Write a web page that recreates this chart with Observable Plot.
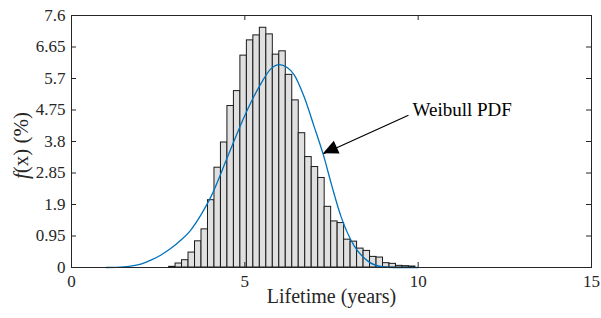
<!DOCTYPE html>
<html><head><meta charset="utf-8">
<script src="https://cdn.jsdelivr.net/npm/d3@7"></script>
<script src="https://cdn.jsdelivr.net/npm/@observablehq/plot@0.6"></script>
<style>html,body{margin:0;padding:0;background:#fff} svg{display:block}</style>
</head><body><div id="chart"></div>
<script>
// ---- data ----
const binStart = 2.815;   // lower edge of first histogram bin (years)
const binWidth = 0.187;   // histogram bin width (years)
const binValues = [0.02,0.12,0.22,0.45,0.79,1.15,2.03,3.01,3.77,4.87,5.32,6.39,6.85,7.00,7.23,7.03,6.42,6.52,5.81,5.04,4.05,3.33,3.03,2.70,1.83,1.39,1.34,0.84,0.78,0.57,0.50,0.32,0.30,0.13,0.11,0.05,0.04,0.03];
const curveX = [1.0,1.5,2.0,2.29,2.57,2.86,3.15,3.44,3.73,4.02,4.5,4.98,5.46,5.75,6.0,6.22,6.42,6.71,7.0,7.27,7.5,7.77,8.15,8.54,8.92,9.3,10.0];
const curveY = [0,0.02,0.1,0.22,0.37,0.57,0.82,1.13,1.58,2.13,3.33,4.54,5.54,5.99,6.12,6.03,5.82,5.15,4.25,3.38,2.5,1.55,0.66,0.2,0.03,0,0];
const xTicks = [0,5,10,15];
const yTicks = [0,0.95,1.9,2.85,3.8,4.75,5.7,6.65,7.6];
const xLabel = "Lifetime (years)";
const yLabel = "f(x) (%)";
const noteText = "Weibull PDF";
const notePos = [9.84, 4.74];
const arrowTail = [9.72, 4.59];
const arrowTip = [7.27, 3.43];

// ---- tables built from the arrays ----
const bins = binValues.map((v, i) => ({x1: binStart + i * binWidth, x2: binStart + (i + 1) * binWidth, y: v}));
const curve = curveX.map((x, i) => ({x, y: curveY[i]}));
const arrow = [{x1: arrowTail[0], y1: arrowTail[1], x2: arrowTip[0], y2: arrowTip[1]}];

const W = 601, H = 318, mt = 15, mb = 51, ml = 71, mr = 10;
const innerW = W - ml - mr, innerH = H - mt - mb, tk = 5;
const ink = "#262626";

const plot = Plot.plot({
  width: W, height: H,
  marginTop: mt, marginBottom: mb, marginLeft: ml, marginRight: mr,
  style: {fontFamily: "'Liberation Serif', 'Times New Roman', serif", fontSize: "17px", color: ink, background: "#fff", overflow: "visible"},
  x: {domain: [0, 15]},
  y: {domain: [0, 7.6]},
  marks: [
    Plot.rectY(bins, {x1: "x1", x2: "x2", y: "y", fill: "#e0e0e0", stroke: "#1a1a1a", strokeWidth: 1}),
    Plot.line(curve, {x: "x", y: "y", stroke: "#0072bd", strokeWidth: 1.3, curve: "monotone-x"}),
    Plot.ruleX(xTicks, {x: d => d, insetTop: innerH - tk, stroke: ink}),
    Plot.ruleX(xTicks, {x: d => d, insetBottom: innerH - tk, stroke: ink}),
    Plot.ruleY(yTicks, {y: d => d, insetRight: innerW - tk, stroke: ink}),
    Plot.ruleY(yTicks, {y: d => d, insetLeft: innerW - tk, stroke: ink}),
    Plot.frame({stroke: ink, strokeWidth: 1}),
    Plot.axisX({ticks: xTicks, tickSize: 0, tickPadding: 7, tickFormat: d => String(d), label: null}),
    Plot.axisY({ticks: yTicks, tickSize: 0, tickPadding: 6, tickFormat: d => String(d), label: null}),
    Plot.text([xLabel], {frameAnchor: "bottom", dy: 35, text: d => d, fontSize: 20, fill: ink}),
    Plot.text([yLabel], {frameAnchor: "left", textAnchor: "middle", dx: -50, dy: 4, rotate: -90, text: d => d, fontSize: 21, fill: ink}),
    Plot.link(arrow, {x1: "x1", y1: "y1", x2: "x2", y2: "y2", stroke: "#000", strokeWidth: 1.2}),
    Plot.text([noteText], {x: () => notePos[0], y: () => notePos[1], text: d => d, textAnchor: "start", fontSize: 19, fill: "#000"})
  ]
});

// italic f in the y label
d3.select(plot).selectAll("text").filter(function() { return this.textContent === yLabel; }).each(function() {
  const t = d3.select(this);
  t.text(null);
  t.append("tspan").attr("font-style", "italic").text("f");
  t.append("tspan").text(yLabel.slice(1));
});

// filled arrowhead from the library's scales
const sx = plot.scale("x").apply, sy = plot.scale("y").apply;
const tx = sx(arrowTip[0]), ty = sy(arrowTip[1]);
const bx = sx(arrowTail[0]), by = sy(arrowTail[1]);
const len = Math.hypot(bx - tx, by - ty), ux = (bx - tx) / len, uy = (by - ty) / len;
const hl = 15, hw = 7;
const cx = tx + ux * hl, cy = ty + uy * hl;
d3.select(plot).append("path")
  .attr("d", `M${tx},${ty}L${cx - uy * hw},${cy + ux * hw}L${cx + uy * hw},${cy - ux * hw}Z`)
  .attr("fill", "#000");

document.getElementById("chart").appendChild(plot);
</script>
</body></html>
